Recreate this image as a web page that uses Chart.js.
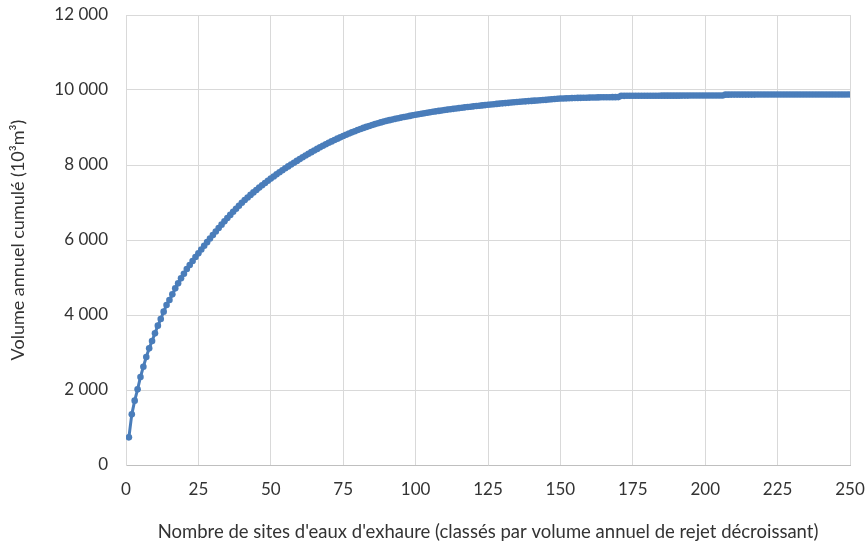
<!DOCTYPE html>
<html>
<head>
<meta charset="utf-8">
<script src="https://cdn.jsdelivr.net/npm/chart.js@4"></script>
<style>
  html, body { margin: 0; padding: 0; background: #fff; }
  #chart { display: block; }
</style>
</head>
<body>
<canvas id="chart" width="866" height="548"></canvas>
<script>
// volume annuel cumulé (10^3 m3) par rang de site
const cumulVolumes = [
  738, 1351, 1716, 2017, 2347, 2622, 2880, 3111, 3307, 3511,
  3716, 3893, 4089, 4267, 4400, 4551, 4711, 4844, 4978, 5102,
  5227, 5333, 5440, 5547, 5644, 5745, 5845, 5943, 6040, 6135,
  6228, 6320, 6410, 6498, 6585, 6670, 6753, 6835, 6915, 6993,
  7065, 7135, 7203, 7270, 7335, 7398, 7460, 7520, 7580, 7638,
  7695, 7751, 7806, 7860, 7912, 7963, 8013, 8062, 8110, 8157,
  8205, 8252, 8298, 8343, 8387, 8430, 8472, 8513, 8553, 8592,
  8630, 8667, 8703, 8738, 8772, 8806, 8839, 8871, 8902, 8932,
  8961, 8989, 9016, 9042, 9067, 9091, 9114, 9136, 9157, 9177,
  9196, 9214, 9231, 9248, 9264, 9280, 9295, 9310, 9325, 9340,
  9354, 9368, 9381, 9394, 9407, 9419, 9431, 9443, 9455, 9466,
  9477, 9488, 9498, 9508, 9518, 9528, 9537, 9546, 9555, 9564,
  9573, 9581, 9589, 9597, 9605, 9613, 9621, 9629, 9637, 9644,
  9651, 9658, 9665, 9672, 9679, 9686, 9692, 9698, 9704, 9710,
  9716, 9722, 9727, 9732, 9737, 9745, 9752, 9759, 9766, 9772,
  9775, 9778, 9781, 9784, 9787, 9789, 9791, 9793, 9795, 9797,
  9799, 9801, 9803, 9805, 9806, 9807, 9808, 9809, 9810, 9811,
  9844, 9844, 9845, 9845, 9845, 9846, 9846, 9846, 9847, 9847,
  9847, 9848, 9848, 9848, 9849, 9849, 9849, 9850, 9850, 9850,
  9850, 9851, 9851, 9851, 9852, 9852, 9852, 9852, 9853, 9853,
  9853, 9853, 9854, 9854, 9854, 9855, 9876, 9876, 9877, 9877,
  9877, 9877, 9878, 9878, 9878, 9878, 9878, 9879, 9879, 9879,
  9879, 9879, 9879, 9880, 9880, 9880, 9880, 9880, 9880, 9880,
  9881, 9881, 9881, 9881, 9881, 9881, 9881, 9881, 9881, 9881,
  9881, 9881, 9881, 9882, 9882, 9882, 9882, 9882, 9882, 9882
];

const xTicks = [0, 25, 50, 75, 100, 125, 150, 175, 200, 225, 250];
const yTickLabels = ['0', '2 000', '4 000', '6 000', '8 000', '10 000', '12 000'];

const xTitle = "Nombre de sites d'eaux d'exhaure (classés par volume annuel de rejet décroissant)";
const yTitle = 'Volume annuel cumulé (10³m³)';

// les points : rang du site (1, 2, 3...) et volume cumulé
const points = cumulVolumes.map((v, i) => ({ x: i + 1, y: v }));

const blue = '#4a7dba';
const gridColor = '#d9d9d9';
const textColor = '#333333';
const fontFamily = 'Lato, "Liberation Sans", sans-serif';

new Chart(document.getElementById('chart').getContext('2d'), {
  type: 'line',
  data: {
    datasets: [{
      data: points,
      borderColor: blue,
      backgroundColor: blue,
      borderWidth: 3,
      pointRadius: 3.3,
      pointBorderWidth: 0,
      pointBackgroundColor: blue,
      tension: 0,
      fill: false
    }]
  },
  options: {
    responsive: false,
    animation: false,
    devicePixelRatio: 1,
    layout: { padding: { left: 6, top: 15, right: 16, bottom: 4 } },
    plugins: { legend: { display: false }, tooltip: { enabled: false } },
    scales: {
      x: {
        type: 'linear',
        min: 0,
        max: 250,
        afterFit: (scale) => {
          scale.height = 79;
          scale.paddingLeft = 0;
          scale.paddingRight = 0;
        },
        afterBuildTicks: (scale) => { scale.ticks = xTicks.map(v => ({ value: v })); },
        grid: { color: gridColor, drawTicks: false },
        border: { color: '#bfbfbf' },
        ticks: { padding: 14, color: textColor, font: { family: fontFamily, size: 17 }, maxRotation: 0 },
        title: {
          display: true,
          text: xTitle,
          color: textColor,
          font: { family: fontFamily, size: 18.5 },
          padding: { top: 0, bottom: 1 }
        }
      },
      y: {
        min: 0,
        max: 12000,
        afterFit: (scale) => {
          scale.width = 120;
          scale.paddingTop = 0;
          scale.paddingBottom = 0;
        },
        grid: { color: gridColor, drawTicks: false },
        border: { color: gridColor },
        ticks: {
          stepSize: 2000,
          padding: 18,
          color: textColor,
          font: { family: fontFamily, size: 17 },
          callback: (value) => yTickLabels[value / 2000]
        },
        title: {
          display: true,
          text: yTitle,
          color: textColor,
          font: { family: fontFamily, size: 18 },
          padding: { top: 1, bottom: 0 }
        }
      }
    }
  }
});
</script>
</body>
</html>
